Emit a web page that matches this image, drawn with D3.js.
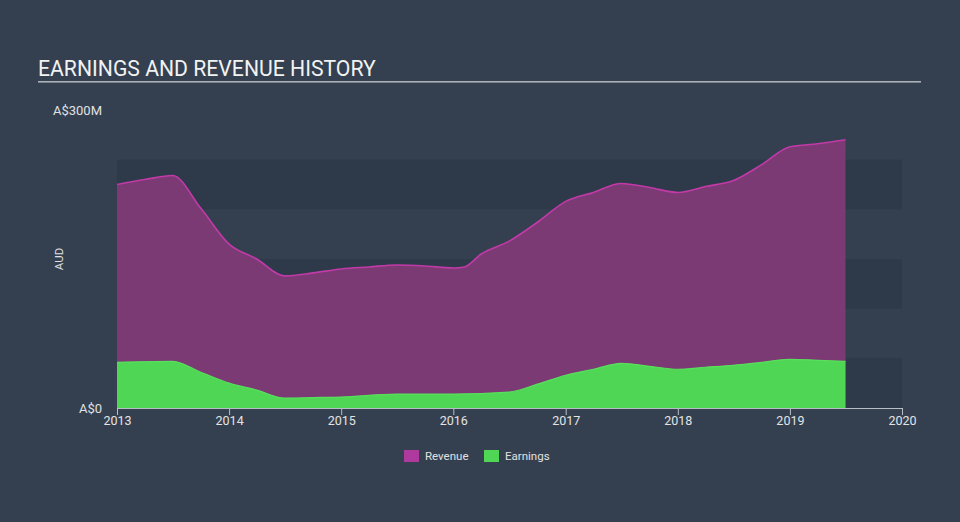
<!DOCTYPE html>
<html><head><meta charset="utf-8">
<script src="https://cdn.jsdelivr.net/npm/d3@7"></script>
<style>
html,body{margin:0;padding:0;background:#344050;}
svg{display:block;font-family:Roboto,"Open Sans",sans-serif;}
</style></head>
<body>
<svg id="chart" width="960" height="522"></svg>
<script>
const revenueDates = ["2013-01-01","2013-04-01","2013-07-01","2013-10-01","2014-01-01","2014-04-01","2014-07-01","2014-10-01","2015-01-01","2015-04-01","2015-07-01","2015-10-01","2016-01-01","2016-02-06","2016-04-01","2016-07-01","2016-10-01","2017-01-01","2017-04-01","2017-07-01","2017-10-01","2018-01-01","2018-04-01","2018-07-01","2018-10-01","2019-01-01","2019-04-01","2019-07-01"];
const revenueValues = [225,230,234,201,165,150,133,136,140,142,144,143,141,142,155,168,187,208,217,226,222,217,223,229,245,263,266,270];
const earningsDates = ["2013-01-01","2013-07-01","2013-10-01","2014-01-01","2014-04-01","2014-07-01","2014-10-01","2015-01-01","2015-07-01","2016-01-01","2016-07-01","2016-10-01","2017-01-01","2017-04-01","2017-07-01","2017-10-01","2018-01-01","2018-04-01","2018-07-01","2018-10-01","2019-01-01","2019-04-01","2019-07-01"];
const earningsValues = [46,47,36,25,18,10,10.5,11,14,14,16,24,33,39,45,42,39,41,43,46,49,48,47];
const xTickLabels = ["2013","2014","2015","2016","2017","2018","2019","2020"];
const yTickValues = [0,300];
const yTickLabels = ["A$0","A$300M"];
const bandValues = [0,50,100,150,200,250];
const seriesNames = ["Revenue","Earnings"];

const svg = d3.select("#chart");
const parse = d3.timeParse("%Y-%m-%d");
const x = d3.scaleTime().domain([parse("2013-01-01"), parse("2020-01-01")]).range([117, 902]);
const y = d3.scaleLinear().domain([0, 300]).range([408, 110]);

// Title
svg.append("text").attr("x", 38).attr("y", 76).attr("fill", "#f2f2f2")
  .attr("font-size", 21.2).text("EARNINGS AND REVENUE HISTORY");
svg.append("rect").attr("x", 38).attr("y", 81).attr("width", 883).attr("height", 1.6).attr("fill", "#a9b0b8");

// Bands
for (let i = 0; i < bandValues.length - 1; i++) {
  if (i % 2 === 0) {
    svg.append("rect").attr("x", x.range()[0]).attr("width", x.range()[1] - x.range()[0])
      .attr("y", y(bandValues[i+1])).attr("height", y(bandValues[i]) - y(bandValues[i+1]))
      .attr("fill", "#2e3a49");
  }
}

const rev = revenueDates.map((d, i) => ({d: parse(d), v: revenueValues[i]}));
const ear = earningsDates.map((d, i) => ({d: parse(d), v: earningsValues[i]}));

const area = d3.area().x(p => x(p.d)).y0(y(0)).y1(p => y(p.v)).curve(d3.curveMonotoneX);
const line = d3.line().x(p => x(p.d)).y(p => y(p.v)).curve(d3.curveMonotoneX);

svg.append("path").datum(rev).attr("d", area).attr("fill", "#7b3a74");
svg.append("path").datum(rev).attr("d", line).attr("fill", "none").attr("stroke", "#c13aa8").attr("stroke-width", 1.6);
svg.append("path").datum(ear).attr("d", area).attr("fill", "#50d655");
svg.append("path").datum(ear).attr("d", line).attr("fill", "none").attr("stroke", "#58e05c").attr("stroke-width", 1.2);

// X axis
const xAxis = d3.axisBottom(x)
  .tickValues(xTickLabels.map(t => parse(t + "-01-01")))
  .tickFormat((d, i) => xTickLabels[i]).tickSize(7).tickSizeOuter(0);
const gx = svg.append("g").attr("transform", `translate(0,${y(0)})`).call(xAxis);
gx.select(".domain").attr("stroke", "#b8bec6").attr("stroke-width", 1.2);
gx.selectAll(".tick line").attr("stroke", "#b8bec6");
gx.selectAll(".tick text").attr("fill", "#e4e4e4").attr("font-size", 12.5)
  .attr("font-family", "Roboto, sans-serif").attr("dy", "0.55em");

// Y labels
yTickValues.forEach((v, i) => {
  svg.append("text").attr("x", 102).attr("y", y(v) + 4.5).attr("text-anchor", "end")
    .attr("fill", "#e0e0e0").attr("font-size", 13).text(yTickLabels[i]);
});

// AUD
svg.append("text").attr("transform", "translate(63,259) rotate(-90)").attr("text-anchor", "middle")
  .attr("fill", "#e0e0e0").attr("font-size", 11.5).text("AUD");

// Legend
const legendColors = ["#b0399d", "#50d655"];
const legendX = [404, 484];
seriesNames.forEach((n, i) => {
  svg.append("rect").attr("x", legendX[i]).attr("y", 450).attr("width", 15).attr("height", 12).attr("fill", legendColors[i]);
  svg.append("text").attr("x", legendX[i] + 21).attr("y", 460).attr("fill", "#e0e0e0").attr("font-size", 11.5).text(n);
});
</script>
</body></html>
